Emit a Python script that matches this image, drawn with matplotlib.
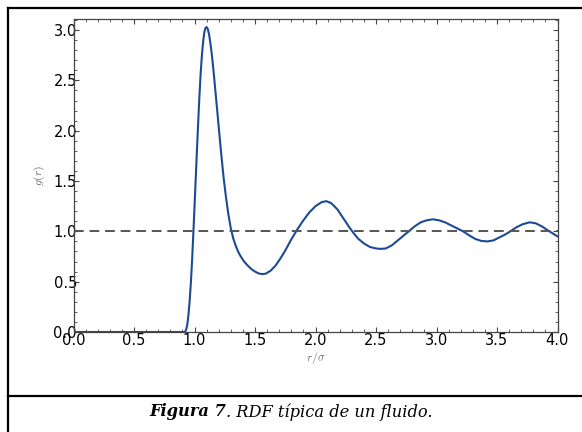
import matplotlib
matplotlib.use("Agg")
import matplotlib.pyplot as plt
from matplotlib.lines import Line2D
from matplotlib.ticker import MultipleLocator

# g(r)
r = [0.00, 0.50, 0.90, 0.92, 0.93, 0.94, 0.95, 0.96, 0.97, 0.98, 0.99, 1.00,
     1.01, 1.02, 1.03, 1.04, 1.05, 1.06, 1.07, 1.08, 1.09, 1.10, 1.11, 1.12,
     1.13, 1.14, 1.15, 1.16, 1.18, 1.20, 1.22, 1.24, 1.26, 1.28, 1.30, 1.32,
     1.34, 1.36, 1.38, 1.41, 1.44, 1.47, 1.50, 1.53, 1.56, 1.59, 1.63, 1.67,
     1.71, 1.75, 1.80, 1.85, 1.90, 1.95, 2.00, 2.05, 2.09, 2.13, 2.18, 2.23,
     2.28, 2.31, 2.35, 2.40, 2.45, 2.50, 2.54, 2.58, 2.63, 2.68, 2.73, 2.77,
     2.82, 2.87, 2.92, 2.97, 3.02, 3.07, 3.12, 3.17, 3.22, 3.27, 3.32, 3.37,
     3.42, 3.47, 3.52, 3.57, 3.61, 3.66, 3.71, 3.77, 3.82, 3.87, 3.92, 3.96,
     4.00]
g = [0.00, 0.00, 0.00, 0.00, 0.02, 0.07, 0.17, 0.31, 0.49, 0.71, 0.97, 1.24,
     1.52, 1.80, 2.07, 2.33, 2.55, 2.73, 2.87, 2.97, 3.02, 3.03, 3.01, 2.96,
     2.88, 2.79, 2.68, 2.56, 2.30, 2.04, 1.78, 1.54, 1.34, 1.17, 1.03, 0.93,
     0.86, 0.80, 0.755, 0.70, 0.66, 0.625, 0.60, 0.582, 0.575, 0.58, 0.61, 0.66,
     0.73, 0.81, 0.92, 1.02, 1.11, 1.19, 1.25, 1.29, 1.30, 1.28, 1.22, 1.13,
     1.04, 0.99, 0.93, 0.88, 0.845, 0.83, 0.826, 0.83, 0.86, 0.91, 0.96, 1.00,
     1.05, 1.09, 1.11, 1.12, 1.11, 1.09, 1.06, 1.03, 1.00, 0.96, 0.925, 0.905,
     0.90, 0.91, 0.94, 0.97, 1.00, 1.04, 1.07, 1.09, 1.08, 1.05, 1.01, 0.98,
     0.95]
ideal = 1.0

plt.rcParams['mathtext.fontset'] = 'cm'

fig = plt.figure(figsize=(5.82, 4.32), dpi=100)
ax = fig.add_axes([73.5/582, 1 - 332/432, 484/582, 313/432])

ax.plot(r, g, color='#1c4a96', lw=1.5)
ax.axhline(ideal, color='#555555', lw=1.4, ls=(0, (5, 3)))

ax.set_xlim(0, 4)
ax.set_ylim(0, 3.11)
ax.xaxis.set_major_locator(MultipleLocator(0.5))
ax.xaxis.set_minor_locator(MultipleLocator(0.1))
ax.yaxis.set_major_locator(MultipleLocator(0.5))
ax.yaxis.set_minor_locator(MultipleLocator(0.1))
ax.tick_params(which='both', direction='in', top=True, right=True, color='#444444')
ax.tick_params(which='major', length=3.5, width=0.8, labelsize=10.5)
ax.tick_params(which='minor', length=2, width=0.6)
ax.tick_params(axis='x', pad=0.5)
ax.tick_params(axis='y', pad=-2.5)
for s in ax.spines.values():
    s.set_color('#444444')
    s.set_linewidth(0.9)

ax.set_xlabel(r'$r/\sigma$', fontsize=8.5, color='#666666', labelpad=2)
ax.set_ylabel(r'$g(r)$', fontsize=8.5, color='#666666', labelpad=5)

# frame around figure + caption row
lw = 1.6
fig.add_artist(Line2D([8/582, 1], [1 - 8/432, 1 - 8/432], color='black', lw=lw))
fig.add_artist(Line2D([8/582, 8/582], [0, 1 - 8/432], color='black', lw=lw))
fig.add_artist(Line2D([8/582, 1], [1 - 396/432, 1 - 396/432], color='black', lw=lw))

cy = 1 - 412/432
t1 = fig.text(0, cy, 'Figura 7', family='DejaVu Serif', weight='bold',
              style='italic', fontsize=11.7, va='center')
t2 = fig.text(0, cy, '. RDF típica de un fluido.', family='DejaVu Serif',
              style='italic', fontsize=11.7, va='center')
renderer = fig.canvas.get_renderer()
w1 = t1.get_window_extent(renderer).width
w2 = t2.get_window_extent(renderer).width
x0 = (582 - w1 - w2) / 2
t1.set_x(x0 / 582)
t2.set_x((x0 + w1) / 582)

fig.savefig('out.png', dpi=100)
